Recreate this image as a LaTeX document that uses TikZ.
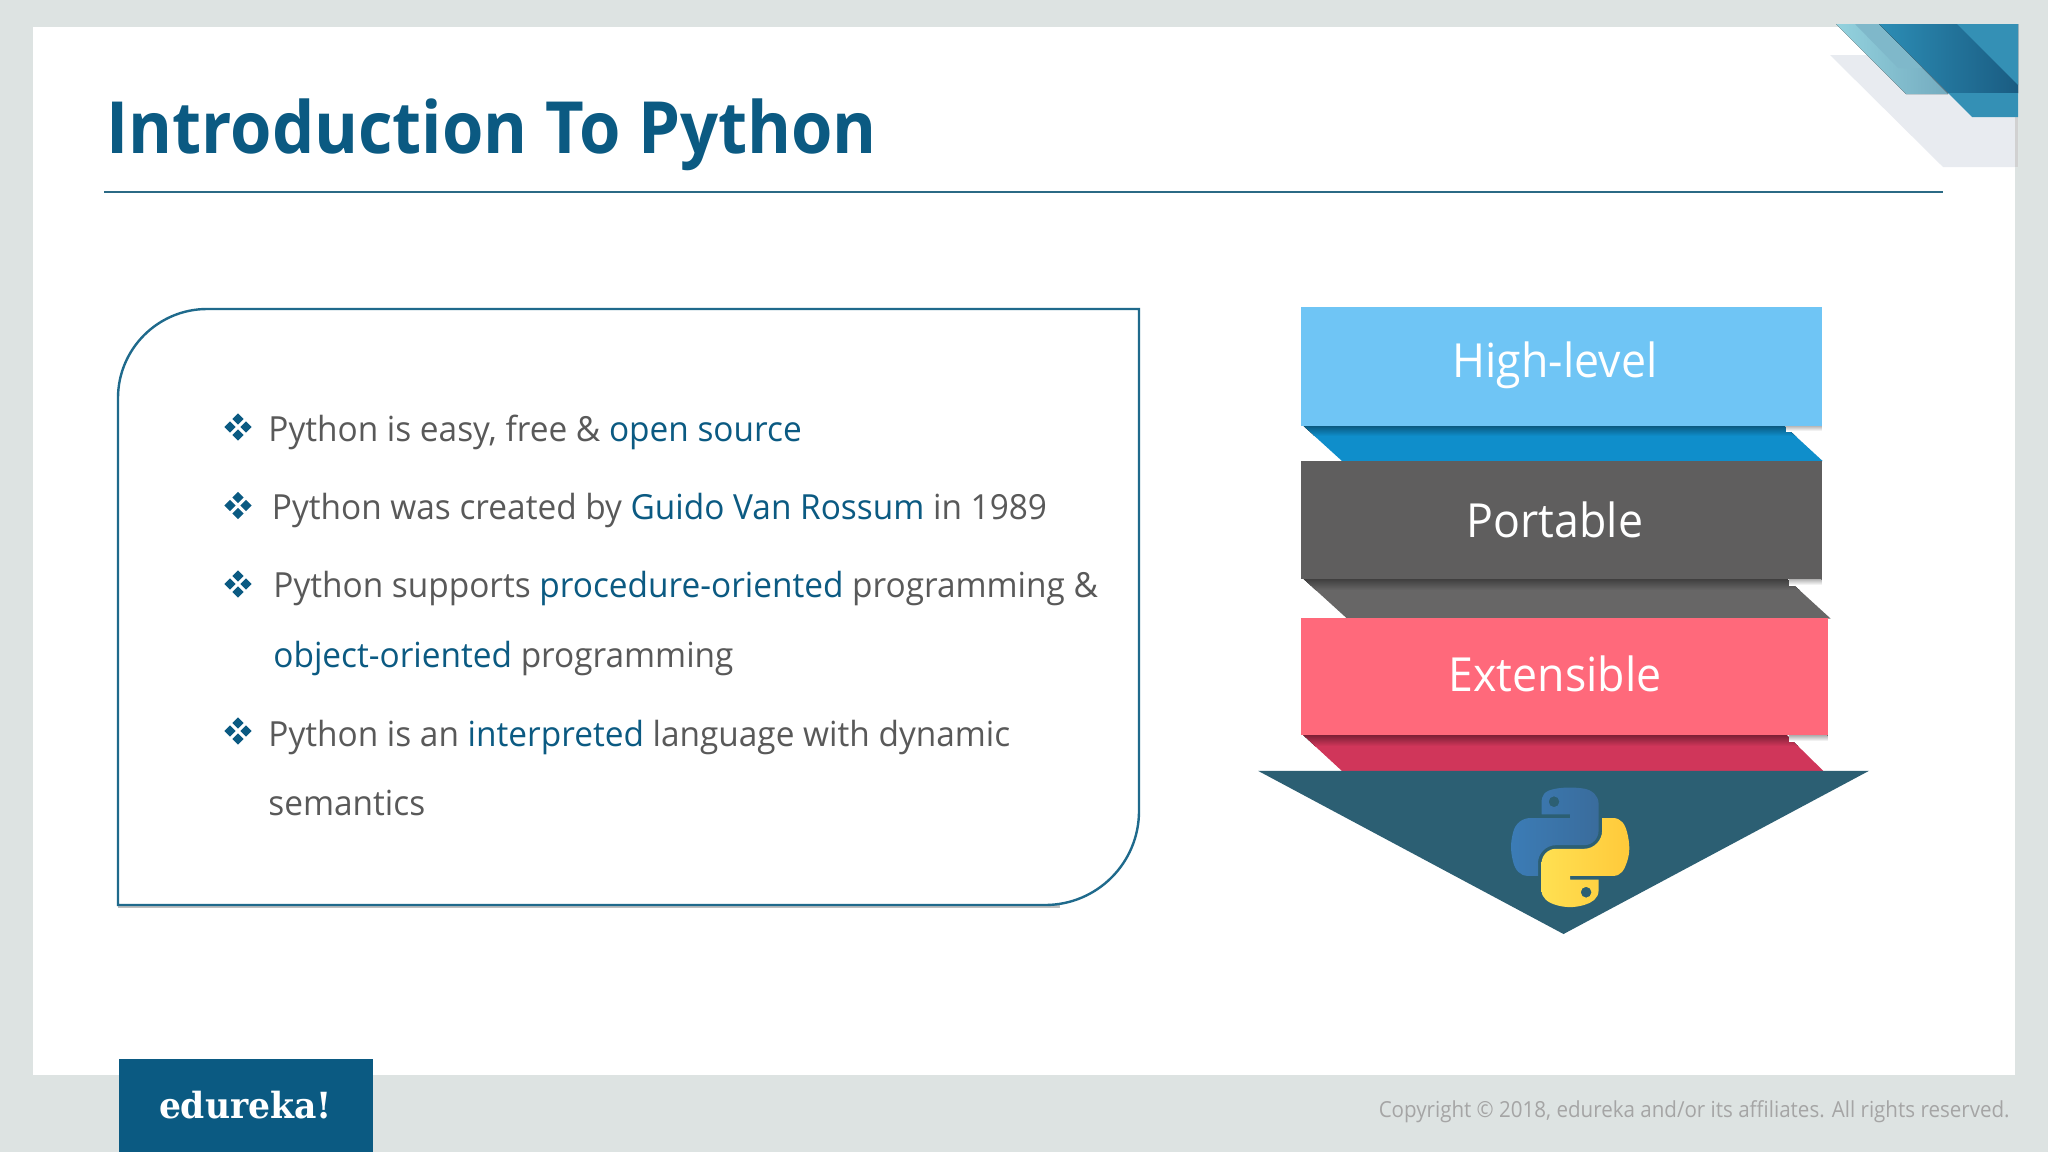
\documentclass[tikz,border=0pt]{standalone}
\usepackage{fontspec}
\usetikzlibrary{svg.path}
\setmainfont[FakeStretch=0.95]{Open Sans}
\newfontfamily\titlefont[FakeStretch=0.93]{Open Sans}
\newfontfamily\bodyfont[FakeStretch=0.965]{Open Sans}
\newfontfamily\copyfont[FakeStretch=0.93]{Open Sans}
\newfontfamily\logofont[FakeStretch=0.96]{DejaVu Serif}
\definecolor{pagebg}{HTML}{DDE3E2}
\definecolor{edublue}{HTML}{0B5A82}
\definecolor{bodygray}{HTML}{595959}
\definecolor{rulecol}{HTML}{2B6A85}
\definecolor{boxline}{HTML}{1F6A8C}
\definecolor{hlblue}{HTML}{6FC5F5}
\definecolor{hlfold}{HTML}{0F8ECB}
\definecolor{pgray}{HTML}{5F5E5E}
\definecolor{pfold}{HTML}{676666}
\definecolor{exred}{HTML}{FF697B}
\definecolor{exfold}{HTML}{D0365A}
\definecolor{tri}{HTML}{2C5F73}
\definecolor{copy}{HTML}{A5A5A5}
\definecolor{cgray}{HTML}{E8EBF0}
\definecolor{pybluea}{HTML}{3B7CB6}
\definecolor{pyblueb}{HTML}{3A6C9C}
\definecolor{pyyellowa}{HTML}{FFE052}
\definecolor{pyyellowb}{HTML}{FFC93A}
\definecolor{orna}{HTML}{93D2DE}
\definecolor{ornb}{HTML}{74ABBF}
\definecolor{ornc}{HTML}{7FB8CA}
\definecolor{ornd}{HTML}{2C8DB5}
\definecolor{orne}{HTML}{1A5C82}
\definecolor{ornf}{HTML}{3490B5}
\newcommand{\hl}[1]{\textcolor{edublue}{#1}}
\newcommand{\bulletmark}[2]{%
  \foreach \dx/\dy in {-8/0,8/0,0/-8,0/8}
    \fill[edublue] (#1+\dx-5.6,#2+\dy) -- (#1+\dx,#2+\dy-5.6) -- (#1+\dx+5.6,#2+\dy) -- (#1+\dx,#2+\dy+5.6) -- cycle;}
\tikzset{
  body/.style={anchor=base west,inner sep=0pt,text=bodygray,font=\bodyfont\fontsize{17.3}{20}\selectfont},
  stacklabel/.style={anchor=base,inner sep=0pt,text=white,font=\fontsize{23.5}{28}\selectfont},
  softedge/.style={top color=black!30,bottom color=white,draw=none}
}
\begin{document}
\begin{tikzpicture}[x=.5pt,y=-.5pt]
\useasboundingbox (0,0) rectangle (2048,1152);
% page
\fill[pagebg] (0,0) rectangle (2048,1152);
\fill[white] (33,27) rectangle (2015,1075);
% corner ornament
\fill[cgray] (1830,55) -- (2018,55) -- (2018,167) -- (1943,167) -- cycle;
\fill[black!18] (2015,117) rectangle (2018,167);
\fill[left color=orna,right color=ornb] (1836,24) -- (1879,24) -- (1948,94) -- (1906,94) -- cycle;
\fill[ornc] (1855,24) -- (1879,24) -- (1922,68) -- (1898,68) -- cycle;
\fill[left color=ornd,right color=orne] (1879,24) -- (2018,24) -- (2018,93) -- (1948,93) -- cycle;
\fill[ornf] (1957,24) -- (2018,24) -- (2018,85) -- cycle;
\fill[ornf] (1948,93) -- (2018,93) -- (2018,117) -- (1972,117) -- cycle;
% title
\node[anchor=base west,inner sep=0pt,text=edublue,font=\titlefont\fontsize{36}{44}\selectfont\bfseries] (title) at (106,153) {Introduction To Python};
\draw[rulecol,line width=1pt] (104,191.5) -- (1943,191.5);
% text box
\fill[black!25] (118,900) rectangle (1060,908);
\draw[boxline,line width=1.2pt,fill=white] (118,398) .. controls (118,349) and (158,309) .. (207,309) -- (1139,309) -- (1139,811) .. controls (1139,863) and (1097,905) .. (1045,905) -- (118,905) -- cycle;
\bulletmark{238}{427}
\bulletmark{238}{505.5}
\bulletmark{238}{584}
\bulletmark{238}{731}
\node[body] (l1) at (268,441) {Python is easy, free \& \hl{open source}};
\node[body] (l2) at (271.5,519.5) {Python was created by \hl{Guido Van Rossum} in 1989};
\node[body] (l3) at (273,597.5) {Python supports \hl{procedure-oriented} programming \&};
\node[body] (l4) at (273,667) {\hl{object-oriented} programming};
\node[body] (l5) at (268,746) {Python is an \hl{interpreted} language with dynamic};
\node[body] (l6) at (268,815) {semantics};
% folds
\begin{scope}
\clip (1302.4,425) -- (1342,461) -- (1822.6,461) -- (1783.5,425) -- cycle;
\fill[hlfold] (1300,435) rectangle (1830,462);
\fill[top color=hlfold!60!black,bottom color=hlfold] (1300,425) rectangle (1830,436);
\end{scope}
\begin{scope}
\clip (1303,578.5) -- (1347,618.5) -- (1830.5,618.5) -- (1786.7,578.5) -- cycle;
\fill[pfold] (1300,589) rectangle (1835,620);
\fill[top color=pfold!60!black,bottom color=pfold] (1300,578.5) rectangle (1835,590);
\end{scope}
\begin{scope}
\clip (1303,735) -- (1342,771) -- (1823.4,771) -- (1786.7,735) -- cycle;
\fill[exfold] (1300,745) rectangle (1830,772);
\fill[top color=exfold!60!black,bottom color=exfold] (1300,735) rectangle (1830,746);
\end{scope}
% soft edges of the bands
\fill[softedge] (1786,425.6) rectangle (1821.5,431);
\fill[softedge] (1789,579) rectangle (1821.5,585);
\fill[softedge] (1789,735.4) rectangle (1827.5,741);
% bands
\fill[hlblue] (1301,307) rectangle (1821.5,425.6);
\fill[pgray] (1301,460.5) rectangle (1821.5,579);
\fill[exred] (1301,617.5) rectangle (1827.5,735.4);
\node[stacklabel] (hl) at (1555,377) {High-level};
\node[stacklabel] (po) at (1555,537.5) {Portable};
\node[stacklabel] (ex) at (1555,691) {Extensible};
% funnel
\fill[tri] (1258,770.8) -- (1869,770.8) -- (1563.5,934) -- cycle;
\begin{scope}[shift={(1511,787.5)},yscale=-1,scale=.532]
\shade[left color=pybluea,right color=pyblueb,even odd rule] svg "M 54.92,0 C 50.34,0.02 45.96,0.41 42.11,1.09 30.76,3.1 28.7,7.29 28.7,15.03 v 10.22 h 26.81 v 3.41 h -26.81 -10.06 c -7.79,0 -14.62,4.68 -16.75,13.59 -2.46,10.21 -2.57,16.59 0,27.25 1.91,7.94 6.46,13.59 14.25,13.59 h 9.22 v -12.25 c 0,-8.85 7.66,-16.66 16.75,-16.66 h 26.78 c 7.45,0 13.41,-6.14 13.41,-13.62 v -25.53 c 0,-7.27 -6.13,-12.72 -13.41,-13.94 C 64.28,0.33 59.5,-0.02 54.92,0 Z M 40.42,8.22 c 2.77,0 5.03,2.3 5.03,5.12 0,2.82 -2.26,5.09 -5.03,5.09 -2.78,0 -5.03,-2.28 -5.03,-5.09 0,-2.83 2.25,-5.12 5.03,-5.12 Z";
\shade[left color=pyyellowa,right color=pyyellowb,even odd rule] svg "M 85.64,28.66 v 11.91 c 0,9.23 -7.83,17 -16.75,17 h -26.78 c -7.34,0 -13.41,6.28 -13.41,13.62 v 25.53 c 0,7.27 6.32,11.54 13.41,13.63 8.49,2.5 16.63,2.95 26.78,0 6.75,-1.95 13.41,-5.89 13.41,-13.63 V 86.5 h -26.78 v -3.41 h 26.78 13.41 c 7.79,0 10.7,-5.44 13.41,-13.59 2.8,-8.4 2.68,-16.48 0,-27.25 -1.93,-7.76 -5.6,-13.59 -13.41,-13.59 Z M 70.58,93.32 c 2.78,0 5.03,2.28 5.03,5.09 0,2.83 -2.25,5.13 -5.03,5.13 -2.77,0 -5.03,-2.3 -5.03,-5.13 0,-2.82 2.26,-5.09 5.03,-5.09 Z";
\end{scope}
% footer
\fill[edublue] (119,1059) rectangle (373,1152);
\node[anchor=base,inner sep=0pt,text=white,font=\logofont\fontsize{18}{22}\selectfont\bfseries] (logo) at (245.5,1118) {edureka!};
\node[anchor=base east,inner sep=0pt,text=copy,font=\copyfont\fontsize{11.05}{14}\selectfont] (copy) at (2010,1117) {Copyright © 2018, edureka and/or its affiliates. All rights reserved.};
\end{tikzpicture}
\end{document}
